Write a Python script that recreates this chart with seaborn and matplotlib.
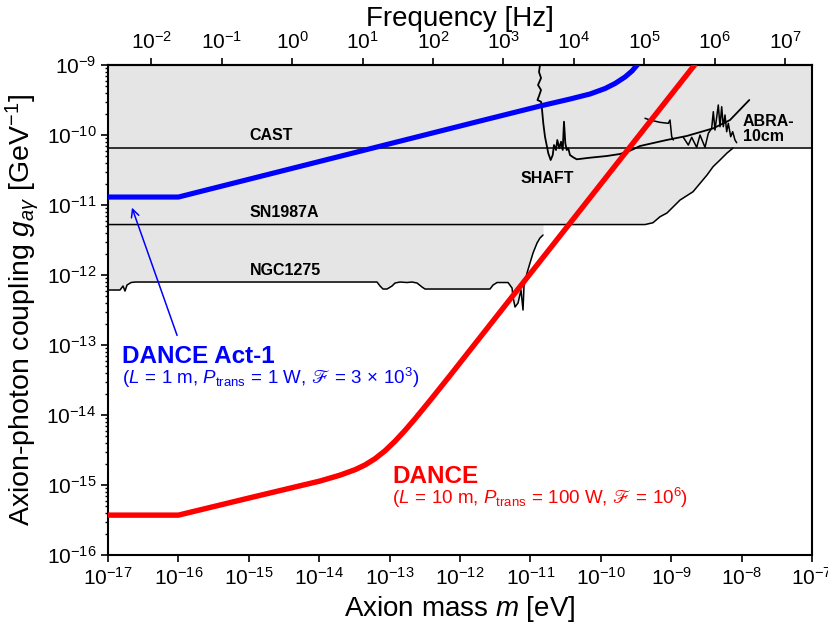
import numpy as np
import matplotlib
matplotlib.use("Agg")
import matplotlib.pyplot as plt
import seaborn as sns
from matplotlib.ticker import LogLocator, NullLocator

# ---------------- data (log10 mass [eV], log10 coupling [GeV^-1]) ----------------
act1_logm = [-17.0, -16.0, -11.716, -10.864, -10.438, -10.153, -9.940, -9.798, -9.656, -9.557, -9.472]
act1_logg = [-10.886, -10.886, -9.800, -9.586, -9.486, -9.414, -9.336, -9.264, -9.171, -9.086, -8.986]

dance_logm = [-17.0, -16.0, -15.0, -14.273, -13.989, -13.705, -13.491, -13.349, -13.207, -13.065,
              -12.923, -12.781, -12.639, -12.426, -12.142, -8.669]
dance_logg = [-15.43, -15.43, -15.186, -15.011, -14.943, -14.859, -14.781, -14.713, -14.624, -14.511,
              -14.374, -14.22, -14.054, -13.793, -13.436, -9.0]

cast_logm = [-17.0, -7.0]
cast_logg = [-10.19, -10.19]

sn_logm = [-17.0, -9.372, -9.259, -9.159, -9.060, -8.875, -8.690, -8.491, -8.406, -8.307, -8.207, -8.122]
sn_logg = [-11.279, -11.279, -11.253, -11.167, -11.114, -10.929, -10.810, -10.571, -10.453, -10.357, -10.257, -10.186]

ngc_logm = [-17.0, -16.83, -16.787, -16.759, -16.73, -16.673, -16.616, -13.179, -13.136, -13.094, -13.037,
            -12.966, -12.923, -12.852, -12.753, -12.682, -12.611, -12.54, -12.497, -11.574, -11.531, -11.474,
            -11.318, -11.261, -11.247, -11.219, -11.176, -11.134, -11.105, -11.091, -11.048, -11.006, -10.963,
            -10.906, -10.864, -10.821]
ngc_logg = [-12.214, -12.214, -12.157, -12.229, -12.143, -12.107, -12.1, -12.1, -12.157, -12.2, -12.2,
            -12.157, -12.114, -12.1, -12.107, -12.1, -12.114, -12.171, -12.2, -12.2, -12.143, -12.107,
            -12.107, -12.186, -12.314, -12.457, -12.4, -12.214, -12.5, -12.157, -11.971, -11.829, -11.686,
            -11.543, -11.471, -11.429]

shaft_logm = [-10.864, -10.878, -10.849, -10.892, -10.849, -10.878, -10.9, -10.849, -10.839, -10.817,
              -10.793, -10.746, -10.712, -10.683, -10.665, -10.636, -10.618, -10.589, -10.565, -10.541,
              -10.523, -10.504, -10.484, -10.462, -10.438, -10.391, -10.342, -10.153, -9.916, -9.727,
              -9.585, -9.443, -9.064, -8.780, -8.402, -8.165, -7.891]
shaft_logg = [-9.0, -9.1, -9.186, -9.286, -9.357, -9.443, -9.5, -9.524, -9.596, -9.833,
              -10.024, -10.261, -10.357, -10.286, -10.143, -10.214, -10.071, -10.19, -10.096, -10.214,
              -9.81, -10.119, -10.214, -10.19, -10.286, -10.319, -10.347, -10.324, -10.3, -10.271,
              -10.224, -10.157, -10.071, -10.014, -9.904, -9.786, -9.5]

abra_arc_logm = [-9.372, -9.301, -9.159, -9.041, -9.017, -8.993, -8.970]
abra_arc_logg = [-9.761, -9.786, -9.819, -9.833, -9.786, -10.024, -10.071]

abra_spk_logm = [-8.828, -8.757, -8.709, -8.638, -8.591, -8.520, -8.473, -8.425, -8.402, -8.378, -8.331,
                 -8.307, -8.283, -8.260, -8.236, -8.212, -8.189, -8.155, -8.127, -8.094, -8.070]
abra_spk_logg = [-10.033, -10.143, -10.033, -10.176, -10.0, -10.176, -9.976, -9.904, -9.667, -9.929, -9.571,
                 -9.881, -9.596, -9.881, -9.714, -9.953, -9.833, -10.024, -9.953, -10.071, -10.11]

HZ_PER_EV = 2.418e14

# ---------------- style ----------------
sns.set_style("ticks")
plt.rcParams.update({
    "font.family": ["Liberation Sans", "DejaVu Sans"],
    "mathtext.fontset": "custom",
    "mathtext.rm": "Liberation Sans",
    "mathtext.it": "Liberation Sans:italic",
    "mathtext.bf": "Liberation Sans:bold",
    "mathtext.fallback": "stix",
    "axes.linewidth": 1.5,
    "axes.edgecolor": "black",
    "text.color": "black",
    "axes.labelcolor": "black",
    "xtick.color": "black",
    "ytick.color": "black",
})

def p(a):
    return 10.0 ** np.asarray(a, dtype=float)

fig = plt.figure(figsize=(8.29, 6.3), dpi=100)
ax = fig.add_axes([0.1303, 0.119, 0.8492, 0.7778])
ax.set_xscale("log")
ax.set_yscale("log")

# excluded region (grey)
fill_m = ngc_logm + [ngc_logm[-1]] + sn_logm[1:] + [cast_logm[-1]]
fill_g = ngc_logg + [sn_logg[0]] + sn_logg[1:] + [cast_logg[-1]]
ax.fill_between(p(fill_m), p(fill_g), 1e-8, color="#e5e5e5", lw=0, zorder=0)

blk = dict(color="black", lw=1.1, sort=False, estimator=None, ax=ax, zorder=2, legend=False)
sns.lineplot(x=p(cast_logm), y=p(cast_logg), **blk)
sns.lineplot(x=p(sn_logm), y=p(sn_logg), **blk)
sns.lineplot(x=p(ngc_logm), y=p(ngc_logg), **blk)
sns.lineplot(x=p(abra_arc_logm), y=p(abra_arc_logg), **blk)
sns.lineplot(x=p(abra_spk_logm), y=p(abra_spk_logg), **blk)
sns.lineplot(x=p(shaft_logm), y=p(shaft_logg), color="black", lw=1.3, sort=False,
             estimator=None, ax=ax, zorder=2, legend=False)

sns.lineplot(x=p(act1_logm), y=p(act1_logg), color="#0000ff", lw=3.7, sort=False,
             estimator=None, ax=ax, zorder=3, legend=False, solid_joinstyle="round")
sns.lineplot(x=p(dance_logm), y=p(dance_logg), color="#ff0000", lw=3.9, sort=False,
             estimator=None, ax=ax, zorder=4, legend=False, solid_joinstyle="round")

ax.set_xlim(1e-17, 1e-7)
ax.set_ylim(1e-16, 1e-9)

# ticks
ax.xaxis.set_major_locator(LogLocator(base=10, numticks=30))
ax.xaxis.set_minor_locator(NullLocator())
ax.yaxis.set_major_locator(LogLocator(base=10, numticks=30))
ax.yaxis.set_minor_locator(LogLocator(base=10, subs=np.arange(2, 10), numticks=30))
ax.tick_params(which="both", direction="out", top=False, right=False, labelsize=15)
ax.tick_params(which="major", length=5, width=1.2)
ax.tick_params(which="minor", length=2.5, width=1.0)

ax.set_xlabel(r"Axion mass $m$ [eV]", fontsize=20)
ax.set_ylabel(r"Axion-photon coupling $g_{a\gamma}$ [GeV$^{-1}$]", fontsize=20.5)

sec = ax.secondary_xaxis("top", functions=(lambda m: m * HZ_PER_EV, lambda f: f / HZ_PER_EV))
sec.xaxis.set_major_locator(LogLocator(base=10, numticks=30))
sec.xaxis.set_minor_locator(NullLocator())
sec.tick_params(which="major", direction="out", length=5, width=1.2, labelsize=15)
sec.set_xlabel("Frequency [Hz]", fontsize=20)

# labels
lab = dict(fontsize=11.5, fontweight="bold", color="black", ha="center", va="center", zorder=5)
ax.text(p(-14.685), p(-10.014), "CAST", **lab)
ax.text(p(-14.493), p(-11.107), "SN1987A", **lab)
ax.text(p(-14.479), p(-11.929), "NGC1275", **lab)
ax.text(p(-10.757), p(-10.621), "SHAFT", **lab)
ax.text(p(-7.98), p(-9.914), "ABRA-\n10cm", fontsize=11.5, fontweight="bold", ha="left",
        va="center", linespacing=1.0, zorder=5)

ax.text(p(-16.801), p(-13.25), "DANCE Act-1", fontsize=17.5, fontweight="bold",
        color="#0000ff", ha="left", va="baseline")
ax.text(p(-16.801), p(-13.55),
        r"($L\,=\,1$ m, $P_{\mathrm{trans}}\,=\,1$ W, $ℱ\,=\,3\,\times\,10^{3}$)",
        fontsize=13.5, color="#0000ff", ha="left", va="baseline")
ax.text(p(-12.966), p(-14.965), "DANCE", fontsize=17.5, fontweight="bold",
        color="#ff0000", ha="left", va="baseline")
ax.text(p(-12.966), p(-15.265),
        r"($L\,=\,10$ m, $P_{\mathrm{trans}}\,=\,100$ W, $ℱ\,=\,10^{6}$)",
        fontsize=13.5, color="#ff0000", ha="left", va="baseline")

ax.annotate("", xy=(p(-16.673), p(-11.0)), xytext=(p(-16.006), p(-12.9)),
            arrowprops=dict(arrowstyle="->", color="#0000ff", lw=1.1, mutation_scale=14))

fig.savefig("out.png", dpi=100)
